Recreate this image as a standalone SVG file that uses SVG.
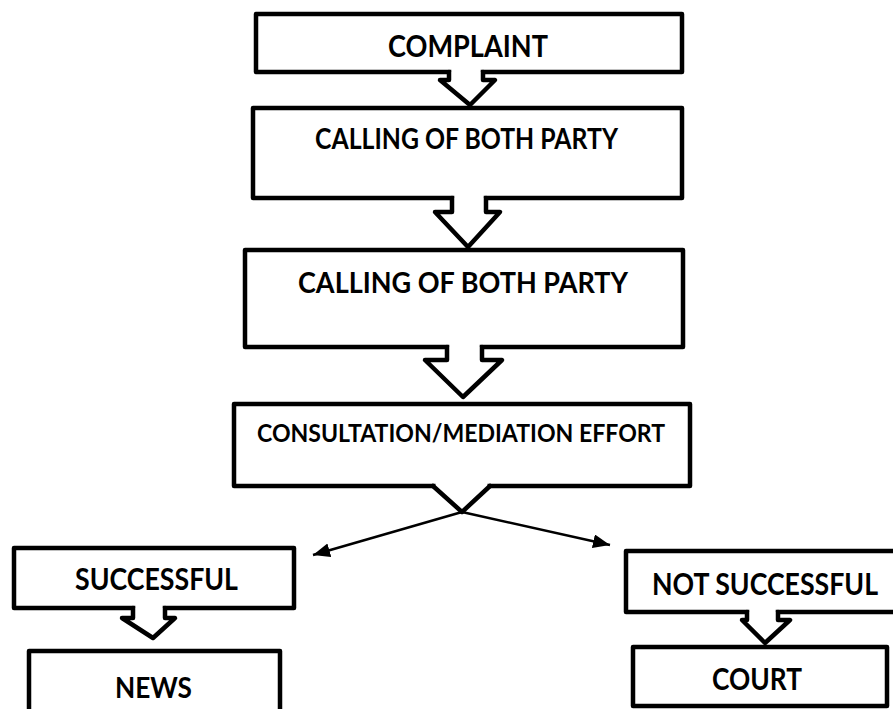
<svg xmlns="http://www.w3.org/2000/svg" width="893" height="709" viewBox="0 0 893 709">
<defs>
<style>
.box{fill:#fff;stroke:#000;stroke-width:4.5;stroke-linejoin:round}
.blk{fill:#fff;stroke:#000;stroke-width:4.5;stroke-linejoin:round;stroke-linecap:round}
.cover{fill:#fff;stroke:none}
.thin{fill:none;stroke:#000;stroke-width:2.5}
.t{font-family:Lato,"Liberation Sans",Arial,sans-serif;font-weight:700;fill:#000;text-anchor:middle}
</style>
<marker id="ah" markerUnits="userSpaceOnUse" markerWidth="20" markerHeight="16" refX="17" refY="7" orient="auto">
<path d="M0,0 L17,7 L0,14 Z" fill="#000"/>
</marker>
</defs>
<rect width="893" height="709" fill="#fff"/>

<g id="n-complaint">
<rect class="box" x="256" y="14" width="426" height="58"/>
<text class="t" x="468" y="57" font-size="31" textLength="160" lengthAdjust="spacingAndGlyphs">COMPLAINT</text>
</g>
<g id="n-calling1">
<rect class="box" x="253" y="108" width="429" height="90"/>
<text class="t" x="466.5" y="149" font-size="28" textLength="303" lengthAdjust="spacingAndGlyphs">CALLING OF BOTH PARTY</text>
</g>
<g id="n-calling2">
<rect class="box" x="245" y="250" width="438" height="97"/>
<text class="t" x="463" y="293" font-size="29" textLength="330" lengthAdjust="spacingAndGlyphs">CALLING OF BOTH PARTY</text>
</g>
<g id="n-consult">
<rect class="box" x="234" y="404" width="456" height="82"/>
<text class="t" x="461" y="442" font-size="24" textLength="408" lengthAdjust="spacingAndGlyphs">CONSULTATION/MEDIATION EFFORT</text>
</g>
<g id="n-successful">
<rect class="box" x="14" y="548" width="280" height="60"/>
<text class="t" x="156.5" y="590" font-size="30" textLength="163" lengthAdjust="spacingAndGlyphs">SUCCESSFUL</text>
</g>
<g id="n-news">
<rect class="box" x="29" y="651" width="251" height="80"/>
<text class="t" x="153.5" y="698" font-size="29" textLength="77" lengthAdjust="spacingAndGlyphs">NEWS</text>
</g>
<g id="n-notsuccessful">
<rect class="box" x="626" y="551" width="280" height="61"/>
<text class="t" x="765" y="595" font-size="30" textLength="226" lengthAdjust="spacingAndGlyphs">NOT SUCCESSFUL</text>
</g>
<g id="n-court">
<rect class="box" x="633" y="647" width="254" height="59"/>
<text class="t" x="757" y="690" font-size="30" textLength="90" lengthAdjust="spacingAndGlyphs">COURT</text>
</g>

<g id="connectors">
<rect class="cover" x="451.3" y="68" width="29.4" height="8"/>
<path class="blk" d="M449,72 L449,80 L440,80 L470,105 L495,80 L483,80 L483,72"/>
<rect class="cover" x="454.3" y="194" width="29.4" height="8"/>
<path class="blk" d="M452,198 L452,212 L435,212 L468,247 L500,212 L486,212 L486,198"/>
<rect class="cover" x="449.3" y="343" width="30.4" height="8"/>
<path class="blk" d="M447,347 L447,360 L425,360 L463,397 L502,360 L482,360 L482,347"/>
<rect class="cover" x="435.5" y="482" width="52" height="8"/>
<path class="blk" d="M433,486 L462,512 L490,486"/>
<line class="thin" x1="462" y1="512" x2="313" y2="555" marker-end="url(#ah)"/>
<line class="thin" x1="462" y1="512" x2="610" y2="545" marker-end="url(#ah)"/>
<rect class="cover" x="135.3" y="604" width="27.4" height="8"/>
<path class="blk" d="M133,608 L133,618 L122,618 L153,638 L175,618 L165,618 L165,608"/>
<rect class="cover" x="749.3" y="608" width="26.4" height="8"/>
<path class="blk" d="M747,612 L747,620 L742,620 L765,643 L790,620 L778,620 L778,612"/>
</g>
</svg>
